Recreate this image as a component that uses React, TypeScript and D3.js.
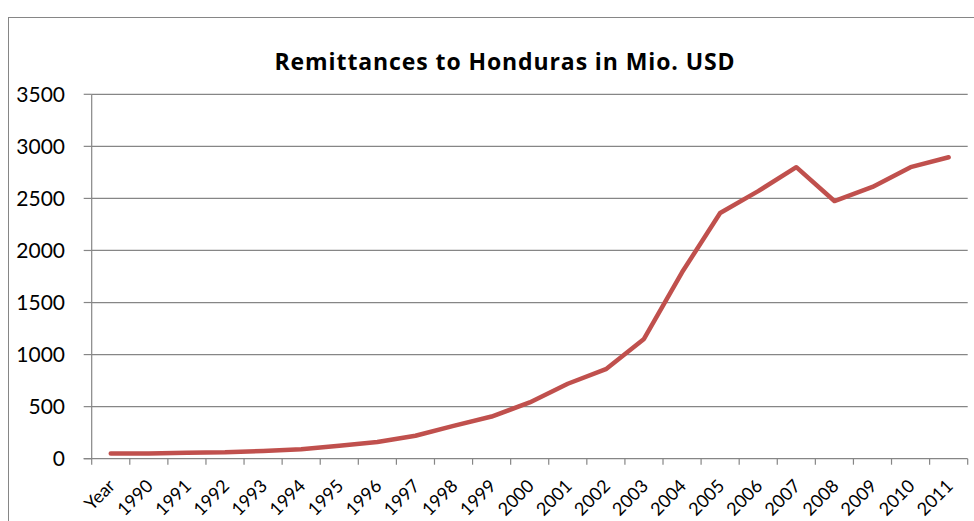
import React from "react";
import * as d3 from "d3";

const categories = ["Year", "1990", "1991", "1992", "1993", "1994", "1995", "1996", "1997", "1998", "1999", "2000", "2001", "2002", "2003", "2004", "2005", "2006", "2007", "2008", "2009", "2010", "2011"];
const remittances = [50, 50, 58, 62, 75, 90, 125, 160, 220, 315, 405, 540, 720, 860, 1150, 1790, 2360, 2570, 2800, 2475, 2610, 2800, 2895];
const yTicks = [0, 500, 1000, 1500, 2000, 2500, 3000, 3500];
const title = "Remittances to Honduras in Mio. USD";

const W = 974;
const H = 521;
const left = 91.7;
const right = 967.7;
const top = 94.3;
const bottom = 458.7;
const FONT = "Lato, 'Open Sans', sans-serif";
const TFONT = "'Open Sans', Lato, sans-serif";
const GRID = "#868686";

export default function App() {
  const x = d3.scaleBand<string>().domain(categories).range([left, right]).padding(0);
  const y = d3.scaleLinear().domain([0, 3500]).range([bottom, top]);
  const line = d3
    .line<number>()
    .x((_, i) => (x(categories[i]) as number) + x.bandwidth() / 2)
    .y((d) => y(d));
  const boundaries = d3.range(categories.length + 1).map((i) => left + i * x.step());

  return (
    <svg width={W} height={H} style={{ position: "absolute", left: 0, top: 0, background: "#fff" }}>
      <rect x={8.5} y={17.5} width={1100} height={700} fill="#fff" stroke={GRID} strokeWidth={1} />
      <text x={505} y={69.5} textAnchor="middle" fontFamily={TFONT} fontWeight={700} fontSize={23} letterSpacing={0.9} fill="#000">
        {title}
      </text>
      {yTicks.map((t) => (
        <g key={t}>
          {t > 0 && <line x1={left} x2={right} y1={y(t)} y2={y(t)} stroke={GRID} strokeWidth={1.2} />}
          <line x1={left - 8} x2={left} y1={y(t)} y2={y(t)} stroke={GRID} strokeWidth={1.2} />
          <text x={65} y={y(t)} dy="0.36em" textAnchor="end" fontFamily={FONT} fontSize={21} fill="#000">
            {t}
          </text>
        </g>
      ))}
      <line x1={left} x2={left} y1={top} y2={bottom} stroke={GRID} strokeWidth={1.2} />
      <line x1={left - 8} x2={right} y1={bottom} y2={bottom} stroke={GRID} strokeWidth={1.2} />
      {boundaries.map((bx, i) => (
        <line key={i} x1={bx} x2={bx} y1={bottom} y2={bottom + 6} stroke={GRID} strokeWidth={1.2} />
      ))}
      {categories.map((c) => {
        const cx = (x(c) as number) + x.bandwidth() / 2;
        return (
          <text
            key={c}
            transform={`translate(${cx - 3.5},${bottom + 19.5}) rotate(-45)`}
            textAnchor="end"
            dy="0.7em"
            fontFamily={FONT}
            fontSize={18}
            fill="#000"
          >
            {c}
          </text>
        );
      })}
      <path d={line(remittances) || ""} fill="none" stroke="#C0504D" strokeWidth={4.5} strokeLinejoin="round" strokeLinecap="round" />
    </svg>
  );
}
